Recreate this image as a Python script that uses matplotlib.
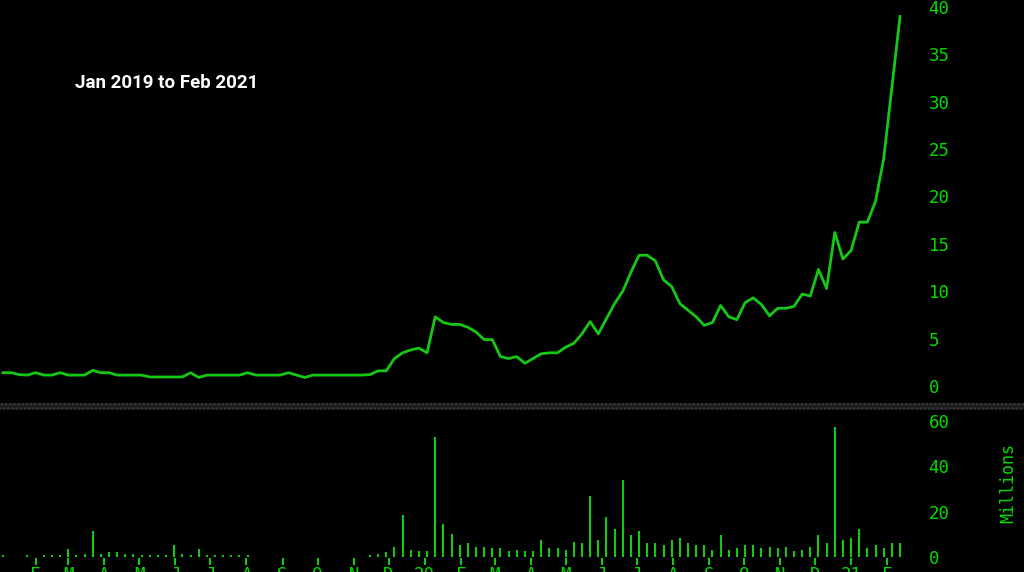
import matplotlib
matplotlib.use("Agg")
import matplotlib.pyplot as plt
import matplotlib.dates as mdates
from matplotlib.patches import Rectangle
import numpy as np
import pandas as pd

# Weekly closes, Jan 2019 - Feb 2021
price = [1.4, 1.4, 1.2, 1.15, 1.4, 1.15, 1.15, 1.4, 1.15, 1.15,
         1.15, 1.65, 1.4, 1.4, 1.15, 1.15, 1.15, 1.15, 0.95, 0.95,
         0.95, 0.95, 0.95, 1.4, 0.9, 1.15, 1.15, 1.15, 1.15, 1.15,
         1.4, 1.15, 1.15, 1.15, 1.15, 1.4, 1.15, 0.9, 1.15, 1.15,
         1.15, 1.15, 1.15, 1.15, 1.15, 1.2, 1.6, 1.6, 2.9, 3.5,
         3.8, 4.0, 3.5, 7.3, 6.7, 6.5, 6.5, 6.2, 5.7, 4.9,
         4.9, 3.1, 2.9, 3.1, 2.4, 2.9, 3.4, 3.5, 3.5, 4.1,
         4.5, 5.5, 6.8, 5.5, 7.1, 8.7, 10.0, 12.0, 13.8, 13.8,
         13.2, 11.2, 10.5, 8.7, 8.0, 7.3, 6.4, 6.7, 8.5, 7.3,
         7.0, 8.8, 9.3, 8.6, 7.4, 8.2, 8.2, 8.4, 9.7, 9.5,
         12.3, 10.3, 16.2, 13.4, 14.3, 17.3, 17.3, 19.5, 24.0, 31.5,
         39.0]

# Weekly volume in millions (nan = no data)
nan = np.nan
volume = [0.8, nan, nan, 0.8, nan, 0.8, 0.8, 0.8, 3.5, 0.8,
          1.5, 11.5, 1.5, 2.0, 2.0, 1.5, 1.5, 0.8, 0.8, 0.8,
          0.8, 5.2, 1.5, 0.8, 3.5, 0.8, 0.8, 0.8, 0.8, 0.8,
          0.8, nan, nan, nan, nan, nan, nan, nan, nan, nan,
          nan, nan, nan, nan, nan, 0.8, 1.5, 2.3, 4.5, 18.5,
          3.0, 2.5, 2.5, 53.0, 14.5, 10.0, 5.5, 6.0, 4.5, 4.5,
          4.0, 4.0, 2.5, 3.0, 2.5, 2.5, 7.5, 4.0, 4.0, 3.0,
          6.5, 6.0, 27.0, 7.5, 17.5, 12.5, 34.0, 9.5, 11.5, 6.0,
          6.0, 5.5, 7.5, 8.5, 6.0, 5.5, 5.5, 3.0, 9.5, 3.0,
          4.0, 5.5, 5.5, 4.0, 4.5, 4.0, 4.5, 2.5, 3.0, 4.5,
          9.5, 6.0, 57.5, 7.5, 8.5, 12.5, 4.0, 5.5, 4.0, 6.0,
          6.0]

dates = pd.date_range("2019-01-04", periods=len(price), freq="W-FRI")

green = "#14c814"
label_green = "#00dc00"
W, H = 1024, 572

fig = plt.figure(figsize=(W / 100, H / 100), dpi=100, facecolor="black")

# price panel
ax1 = fig.add_axes([0, 1 - 400 / H, 905 / W, 400 / H], facecolor="black")
# volume panel
ax2 = fig.add_axes([0, 1 - 558 / H, 905 / W, 146 / H], facecolor="black", sharex=ax1)

ax1.plot(dates, price, color=green, lw=2)
ax2.vlines(dates, 0, volume, color=green, lw=1.5)

x0 = pd.Timestamp("2019-01-04") - pd.Timedelta(days=3 * 0.8584)
x1 = pd.Timestamp("2019-01-04") + pd.Timedelta(days=902 * 0.8584)
ax1.set_xlim(x0, x1)
ax1.set_ylim(-1.48, 40.74)
ax2.set_ylim(-0.44, 64)

ax1.set_yticks(range(0, 41, 5))
ax2.set_yticks([0, 20, 40, 60])
for ax in (ax1, ax2):
    for s in ax.spines.values():
        s.set_visible(False)
    ax.yaxis.tick_right()
    ax.tick_params(axis="y", length=0, pad=17, labelcolor=label_green,
                   labelsize=12.5)
    for t in ax.get_yticklabels():
        t.set_fontfamily("DejaVu Sans Mono")

ax1.tick_params(axis="x", bottom=False, labelbottom=False)

def month_fmt(x, pos=None):
    d = mdates.num2date(x)
    if d.month == 1:
        return d.strftime("%y")
    return d.strftime("%b")[0]

ax2.xaxis.set_major_locator(mdates.MonthLocator())
ax2.xaxis.set_major_formatter(plt.FuncFormatter(month_fmt))
ax2.tick_params(axis="x", length=5, width=1.5, color=green, pad=1,
                labelcolor=label_green, labelsize=12.5)
for t in ax2.get_xticklabels():
    t.set_fontfamily("DejaVu Sans Mono")

# dotted separator band between panels
fig.patches.append(Rectangle((0, 1 - 410 / H), 1, 7 / H, transform=fig.transFigure,
                             facecolor="#1c1c1c", edgecolor="#3a3a3a", lw=0,
                             hatch="...."))

fig.text(75 / W, 1 - 83 / H, "Jan 2019 to Feb 2021", color="white",
         fontsize=13.5, fontweight="bold", family="Roboto", va="center")
fig.text(1008 / W, 1 - 483 / H, "Millions", color=label_green, rotation=90,
         fontsize=12, family="DejaVu Sans Mono", ha="center", va="center")

fig.savefig("out.png", dpi=100, facecolor="black")
